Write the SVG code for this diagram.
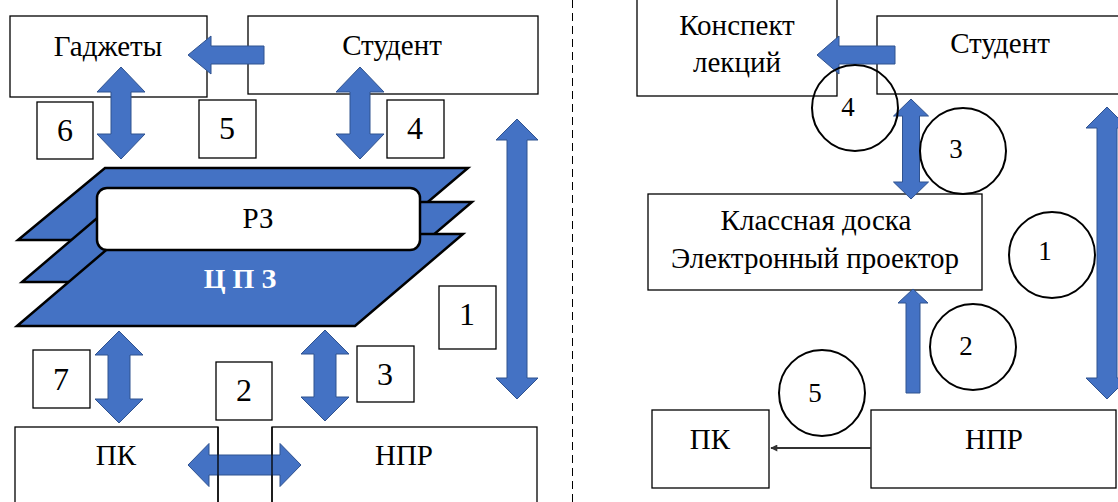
<svg xmlns="http://www.w3.org/2000/svg" width="1118" height="502" viewBox="0 0 1118 502">
<defs>
<style>
.box{fill:#fff;stroke:#000;stroke-width:1.3}
.arr{fill:#4472C4;stroke:#2F528F;stroke-width:1}
.plane{fill:#4472C4;stroke:#000;stroke-width:2.5;stroke-linejoin:miter}
.circ{fill:none;stroke:#000;stroke-width:2}
</style>
<marker id="ah" viewBox="0 0 10 10" refX="9" refY="5" markerWidth="8" markerHeight="7" markerUnits="userSpaceOnUse" orient="auto">
<path d="M0,0 L10,5 L0,10 z" fill="#333"/>
</marker>
</defs>
<rect width="1118" height="502" fill="#fff"/>

<line x1="572.5" y1="0" x2="572.5" y2="502" stroke="#000" stroke-width="1" stroke-dasharray="8 5"/>

<g font-family="Liberation Serif, Times New Roman, serif" font-size="29" text-anchor="middle" fill="#000">
<g id="gadgets"><rect class="box" x="10" y="16" width="197" height="81"/><text x="108" y="56">Гаджеты</text></g>
<g id="student-left"><rect class="box" x="248" y="16" width="290" height="78"/><text x="392" y="55">Студент</text></g>
<g id="label-6"><rect class="box" x="37" y="102" width="56" height="57"/><text x="65" y="141" font-size="32">6</text></g>
<g id="label-5"><rect class="box" x="199" y="100" width="57" height="58"/><text x="227" y="139" font-size="32">5</text></g>
<g id="label-4"><rect class="box" x="387" y="100" width="57" height="58"/><text x="415" y="139" font-size="32">4</text></g>

<g id="czp">
<polygon class="plane" points="105,168 468,168 383,240 18,240"/>
<polygon class="plane" points="116,202 472,202 378,282 22,282"/>
<polygon class="plane" points="125,234 463,234 355,326 17,326"/>
<text x="240" y="288" font-size="28" font-weight="bold" fill="#fff">Ц П З</text>
</g>
<g id="rz"><rect x="97" y="188" width="323" height="62" rx="10" fill="#fff" stroke="#000" stroke-width="2.5"/><text x="258" y="228">РЗ</text></g>

<g id="label-1"><rect class="box" x="439" y="286" width="57" height="63"/><text x="467" y="325" font-size="32">1</text></g>
<g id="label-7"><rect class="box" x="33" y="350" width="57" height="58"/><text x="61" y="390" font-size="32">7</text></g>
<g id="label-2"><rect class="box" x="216" y="362" width="56" height="58"/><text x="244" y="401" font-size="32">2</text></g>
<g id="label-3"><rect class="box" x="357" y="346" width="57" height="56"/><text x="385" y="385" font-size="32">3</text></g>

<g id="pk-left"><rect class="box" x="15" y="427" width="203" height="85"/><text x="116" y="465">ПК</text></g>
<g id="npr-left"><rect class="box" x="272" y="427" width="265" height="85"/><text x="404" y="465">НПР</text></g>

<g id="connectors-left">
<polygon class="arr" points="188,55 211,36 211,46 264,46 264,64 211,64 211,74"/>
<polygon class="arr" points="121,67 145,92 131,92 131,134 145,134 121,159 97,134 111,134 111,92 97,92"/>
<polygon class="arr" points="360,67 384,92 370,92 370,134 384,134 360,159 336,134 350,134 350,92 336,92"/>
<polygon class="arr" points="517,119 538,140 527,140 527,378 538,378 517,399 496,378 507,378 507,140 496,140"/>
<polygon class="arr" points="119,331 143,355 130,355 130,399 143,399 119,423 95,399 108,399 108,355 95,355"/>
<polygon class="arr" points="325,330 349,354 336,354 336,397 349,397 325,421 301,397 314,397 314,354 301,354"/>
<polygon class="arr" points="188,465 209,443.5 209,455 280,455 280,443.5 301,465 280,486.5 280,475 209,475 209,486.5"/>
<line x1="218" y1="427" x2="218" y2="502" stroke="#000" stroke-width="1.3"/>
<line x1="272" y1="427" x2="272" y2="502" stroke="#000" stroke-width="1.3"/>
</g>

<g id="konspekt"><rect class="box" x="637" y="-5" width="200" height="101"/><text x="737" y="35">Конспект</text><text x="737" y="72">лекций</text></g>
<g id="student-right"><rect class="box" x="877" y="16" width="260" height="78"/><text x="1000" y="53">Студент</text></g>
<g id="board"><rect class="box" x="648" y="194" width="334" height="96"/><text x="816" y="230">Классная доска</text><text x="815" y="268">Электронный проектор</text></g>
<g id="pk-right"><rect class="box" x="652" y="410" width="117" height="78"/><text x="710" y="449">ПК</text></g>
<g id="npr-right"><rect class="box" x="871" y="410" width="245" height="78"/><text x="994" y="449">НПР</text></g>

<g id="connectors-right">
<polygon class="arr" points="817,55 839,36 839,46 895,46 895,64 839,64 839,74"/>
<polygon class="arr" points="911,99 928.5,116 919.5,116 919.5,182 928.5,182 911,199 893.5,182 902.5,182 902.5,116 893.5,116"/>
<polygon class="arr" points="913,289 928,303 920,303 920,393 906,393 906,303 898,303"/>
<polygon class="arr" points="1107,107 1128,128 1117,128 1117,378 1128,378 1107,399 1086,378 1097,378 1097,128 1086,128"/>
<line x1="871" y1="448" x2="771" y2="448" stroke="#333" stroke-width="2" marker-end="url(#ah)"/>
</g>

<g id="circle-4"><circle class="circ" cx="855" cy="108" r="43"/><text x="848" y="116" font-size="27">4</text></g>
<g id="circle-3"><circle class="circ" cx="963" cy="151" r="43"/><text x="956" y="158" font-size="27">3</text></g>
<g id="circle-1"><circle class="circ" cx="1052" cy="255" r="43"/><text x="1045" y="260" font-size="27">1</text></g>
<g id="circle-2"><circle class="circ" cx="973" cy="347" r="43"/><text x="966" y="355" font-size="27">2</text></g>
<g id="circle-5"><circle class="circ" cx="822" cy="393" r="43"/><text x="815" y="402" font-size="27">5</text></g>
</g>
</svg>
